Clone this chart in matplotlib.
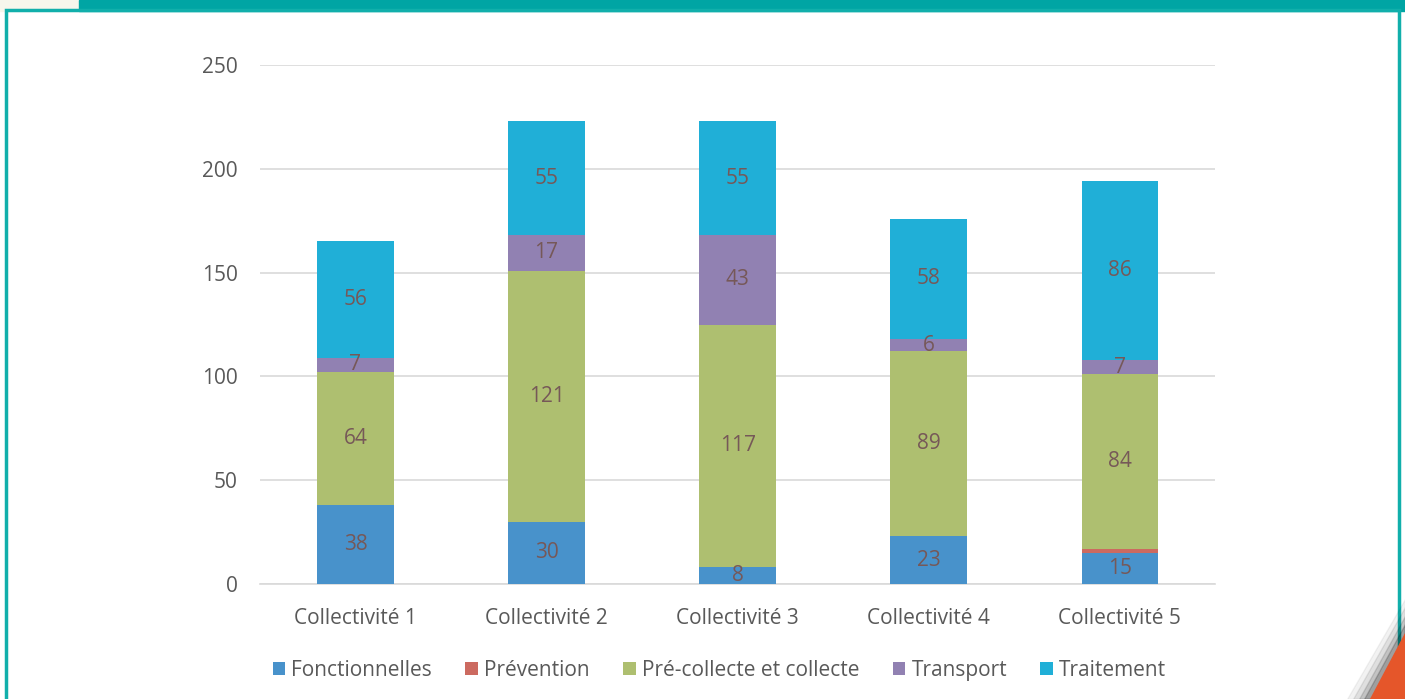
import matplotlib.pyplot as plt
import numpy as np
from matplotlib.patches import Rectangle, Polygon

categories = ['Collectivité 1', 'Collectivité 2', 'Collectivité 3', 'Collectivité 4', 'Collectivité 5']
series_names = ['Fonctionnelles', 'Prévention', 'Pré-collecte et collecte', 'Transport', 'Traitement']
fonctionnelles = [38, 30, 8, 23, 15]
prevention = [0, 0, 0, 0, 2]
precollecte = [64, 121, 117, 89, 84]
transport = [7, 17, 43, 6, 7]
traitement = [56, 55, 55, 58, 86]
colors = ['#4892CB', '#CC6A60', '#AEBF70', '#9181B2', '#20AFD7']
y_ticks = [0, 50, 100, 150, 200, 250]

plt.rcParams['font.family'] = ['Open Sans', 'DejaVu Sans']

fig = plt.figure(figsize=(14.05, 6.99), dpi=100)

# decoration: teal band, frame, orange corner with a soft shadow
fig.patches.append(Rectangle((0, 0.984), 0.056, 0.016, transform=fig.transFigure,
                             color='#F6F6EC', zorder=0))
fig.patches.append(Rectangle((0.056, 0.984), 0.944, 0.016, transform=fig.transFigure,
                             color='#00A5A4', zorder=0))
fig.patches.append(Rectangle((0.004, -0.01), 0.992, 0.995, transform=fig.transFigure,
                             fill=False, edgecolor='#11AFAB', linewidth=2.5, zorder=1))
for i, a in enumerate([0.05, 0.08, 0.12, 0.18]):
    d = 0.004 * (4 - i)
    fig.patches.append(Polygon([(1.0, 0.095 + d * 3), (1.0, 0.0), (0.975 - d, 0.0)], closed=True,
                               transform=fig.transFigure, color='black', alpha=a, zorder=2))
fig.patches.append(Polygon([(1.0, 0.095), (1.0, 0.0), (0.975, 0.0)], closed=True,
                           transform=fig.transFigure, color='#E5562A', zorder=3))

ax = fig.add_axes([0.185, 0.1645, 0.68, 0.7425])
x = np.arange(len(categories))
series = [fonctionnelles, prevention, precollecte, transport, traitement]
bottom = np.zeros(len(categories))
for name, vals, col in zip(series_names, series, colors):
    vals = np.array(vals)
    ax.bar(x, vals, 0.4, bottom=bottom, color=col, label=name, zorder=3)
    if name != 'Prévention':
        for xi, b, v in zip(x, bottom, vals):
            ax.text(xi, b + v / 2, str(v), ha='center', va='center',
                    fontsize=15, color='#765858', zorder=4)
    bottom += vals

ax.set_xlim(-0.5, len(categories) - 0.5)
ax.set_ylim(0, 250)
ax.set_yticks(y_ticks)
ax.set_xticks(x)
ax.set_xticklabels(categories)
ax.yaxis.grid(True, color='#D9D9D9', linewidth=1.2, zorder=0)
ax.set_axisbelow(True)
for s in ['top', 'right', 'left']:
    ax.spines[s].set_visible(False)
ax.spines['bottom'].set_color('#D9D9D9')
ax.spines['bottom'].set_linewidth(1.2)
ax.tick_params(axis='both', length=0, labelsize=15, labelcolor='#595959')
ax.tick_params(axis='y', pad=16)
ax.tick_params(axis='x', pad=17)

ax.legend(loc='upper center', bbox_to_anchor=(0.481, -0.11), ncol=5, frameon=False,
          fontsize=15, labelcolor='#595959', handlelength=0.6, handleheight=0.6,
          handletextpad=0.3, columnspacing=1.6)

fig.savefig('out.png', dpi=100)
